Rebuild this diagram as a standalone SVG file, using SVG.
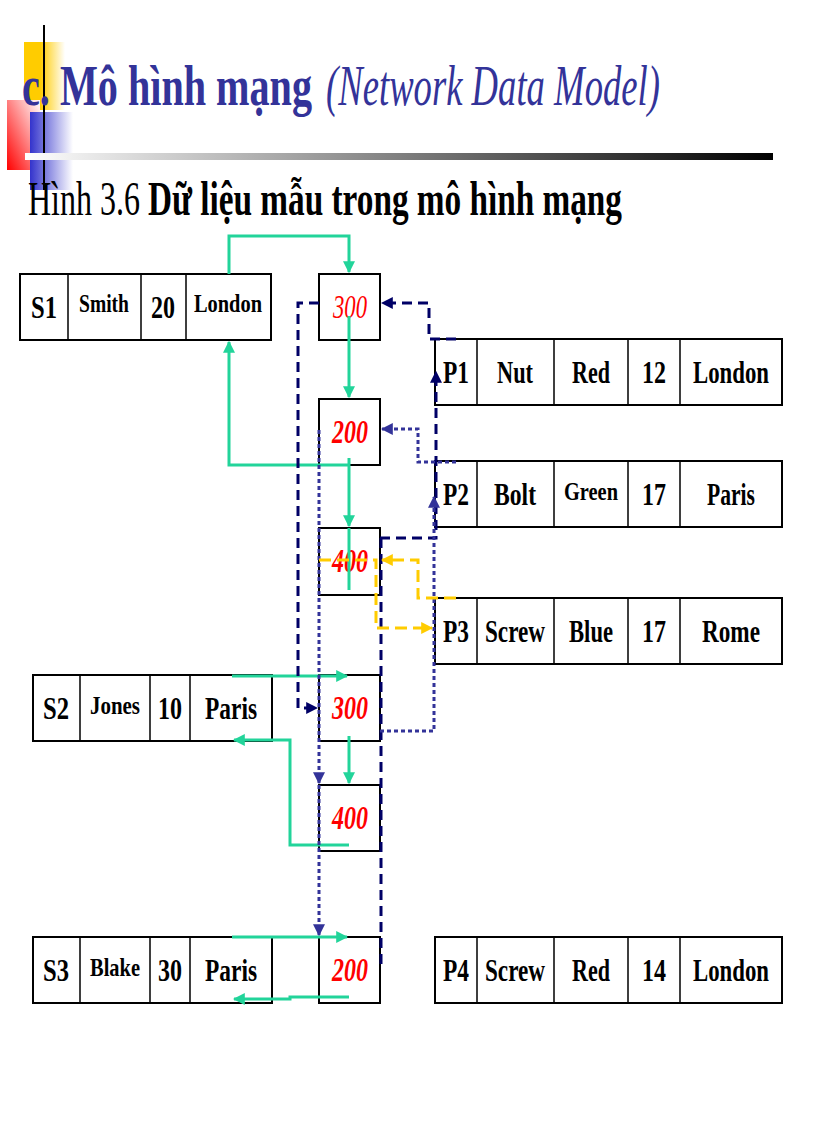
<svg xmlns="http://www.w3.org/2000/svg" width="816" height="1123" viewBox="0 0 816 1123">
<defs>
<linearGradient id="bar" x1="0" x2="1" y1="0" y2="0"><stop offset="0" stop-color="#fff"/><stop offset="1" stop-color="#000"/></linearGradient>
<linearGradient id="red" x1="0" x2="1" y1="1" y2="0"><stop offset="0" stop-color="#f00"/><stop offset="1" stop-color="#fff"/></linearGradient>
<linearGradient id="blue" x1="0" x2="1"><stop offset="0" stop-color="#3333cc"/><stop offset="1" stop-color="#fff"/></linearGradient>
<linearGradient id="yel" x1="0" x2="1"><stop offset="0.4" stop-color="#ffcc00"/><stop offset="1" stop-color="#fff"/></linearGradient>
<marker id="ag" viewBox="0 0 10 10" refX="9" refY="5" markerWidth="4" markerHeight="4" orient="auto"><path d="M0,0L10,5L0,10z" fill="#22d49a"/></marker>
<marker id="an" viewBox="0 0 10 10" refX="9" refY="5" markerWidth="4" markerHeight="4" orient="auto"><path d="M0,0L10,5L0,10z" fill="#000066"/></marker>
<marker id="ab" viewBox="0 0 10 10" refX="9" refY="5" markerWidth="4" markerHeight="4" orient="auto"><path d="M0,0L10,5L0,10z" fill="#333399"/></marker>
<marker id="ay" viewBox="0 0 10 10" refX="9" refY="5" markerWidth="4" markerHeight="4" orient="auto"><path d="M0,0L10,5L0,10z" fill="#ffcc00"/></marker>
</defs>
<style>
.c{fill:#fff;stroke:#000;stroke-width:2}
.t{font-family:"Liberation Serif",serif;font-size:32px;font-weight:bold;text-anchor:middle}
.ts{font-size:26px}
.r{font-family:"Liberation Serif",serif;font-size:34px;font-style:italic;font-weight:bold;fill:#f00;text-anchor:middle}
.g{fill:none;stroke:#22d49a;stroke-width:3;marker-end:url(#ag)}
.g0{fill:none;stroke:#22d49a;stroke-width:3}
.n{fill:none;stroke:#000066;stroke-width:3;stroke-dasharray:10 6}
.b{fill:none;stroke:#333399;stroke-width:3;stroke-dasharray:4 3}
.y{fill:none;stroke:#ffcc00;stroke-width:3;stroke-dasharray:12 6}
</style>
<rect x="24" y="42" width="41" height="68" fill="url(#yel)"/>
<rect x="7" y="100" width="33" height="70" fill="url(#red)"/>
<rect x="30" y="112" width="43" height="78" fill="url(#blue)"/>
<line x1="44" y1="25" x2="44" y2="190" stroke="#000" stroke-width="2"/>
<rect x="25" y="153" width="748" height="7" fill="url(#bar)"/>
<text x="22" y="105" font-family="Liberation Serif,serif" font-size="56" fill="#333399"><tspan font-weight="bold" textLength="290" lengthAdjust="spacingAndGlyphs">c. Mô hình mạng</tspan><tspan x="326" font-style="italic" textLength="334" lengthAdjust="spacingAndGlyphs">(Network Data Model)</tspan></text>
<text x="28" y="215" font-family="Liberation Serif,serif" font-size="48" fill="#000"><tspan textLength="112" lengthAdjust="spacingAndGlyphs">Hình 3.6</tspan><tspan x="148" font-weight="bold" textLength="474" lengthAdjust="spacingAndGlyphs">Dữ liệu mẫu trong mô hình mạng</tspan></text>

<g id="S1"><rect class="c" x="20" y="274" width="251" height="66"/><path d="M68 274V340M141 274V340M186 274V340" stroke="#000" stroke-width="1.5"/>
<text class="t" x="44" y="318" textLength="26" lengthAdjust="spacingAndGlyphs">S1</text><text class="t ts" x="104" y="312" textLength="50" lengthAdjust="spacingAndGlyphs">Smith</text><text class="t" x="163" y="318" textLength="24" lengthAdjust="spacingAndGlyphs">20</text><text class="t ts" x="228" y="312" textLength="68" lengthAdjust="spacingAndGlyphs">London</text></g>
<g id="S2"><rect class="c" x="33" y="675" width="239" height="66"/><path d="M80 675V741M150 675V741M190 675V741" stroke="#000" stroke-width="1.5"/>
<text class="t" x="56" y="719" textLength="26" lengthAdjust="spacingAndGlyphs">S2</text><text class="t ts" x="115" y="714" textLength="50" lengthAdjust="spacingAndGlyphs">Jones</text><text class="t" x="170" y="719" textLength="24" lengthAdjust="spacingAndGlyphs">10</text><text class="t" x="231" y="719" textLength="52" lengthAdjust="spacingAndGlyphs">Paris</text></g>
<g id="S3"><rect class="c" x="33" y="937" width="239" height="66"/><path d="M80 937V1003M150 937V1003M190 937V1003" stroke="#000" stroke-width="1.5"/>
<text class="t" x="56" y="981" textLength="26" lengthAdjust="spacingAndGlyphs">S3</text><text class="t ts" x="115" y="976" textLength="50" lengthAdjust="spacingAndGlyphs">Blake</text><text class="t" x="170" y="981" textLength="24" lengthAdjust="spacingAndGlyphs">30</text><text class="t" x="231" y="981" textLength="52" lengthAdjust="spacingAndGlyphs">Paris</text></g>

<g id="P1"><rect class="c" x="435" y="339" width="347" height="66"/><path d="M477 339V405M554 339V405M628 339V405M680 339V405" stroke="#000" stroke-width="1.5"/>
<text class="t" x="456" y="383" textLength="26" lengthAdjust="spacingAndGlyphs">P1</text><text class="t" x="515" y="383" textLength="36" lengthAdjust="spacingAndGlyphs">Nut</text><text class="t" x="591" y="383" textLength="38" lengthAdjust="spacingAndGlyphs">Red</text><text class="t" x="654" y="383" textLength="24" lengthAdjust="spacingAndGlyphs">12</text><text class="t" x="731" y="383" textLength="76" lengthAdjust="spacingAndGlyphs">London</text></g>
<g id="P2"><rect class="c" x="435" y="461" width="347" height="66"/><path d="M477 461V527M554 461V527M628 461V527M680 461V527" stroke="#000" stroke-width="1.5"/>
<text class="t" x="456" y="505" textLength="26" lengthAdjust="spacingAndGlyphs">P2</text><text class="t" x="515" y="505" textLength="42" lengthAdjust="spacingAndGlyphs">Bolt</text><text class="t ts" x="591" y="500" textLength="54" lengthAdjust="spacingAndGlyphs">Green</text><text class="t" x="654" y="505" textLength="24" lengthAdjust="spacingAndGlyphs">17</text><text class="t" x="731" y="505" textLength="48" lengthAdjust="spacingAndGlyphs">Paris</text></g>
<g id="P3"><rect class="c" x="435" y="598" width="347" height="66"/><path d="M477 598V664M554 598V664M628 598V664M680 598V664" stroke="#000" stroke-width="1.5"/>
<text class="t" x="456" y="642" textLength="26" lengthAdjust="spacingAndGlyphs">P3</text><text class="t" x="515" y="642" textLength="60" lengthAdjust="spacingAndGlyphs">Screw</text><text class="t" x="591" y="642" textLength="44" lengthAdjust="spacingAndGlyphs">Blue</text><text class="t" x="654" y="642" textLength="24" lengthAdjust="spacingAndGlyphs">17</text><text class="t" x="731" y="642" textLength="58" lengthAdjust="spacingAndGlyphs">Rome</text></g>
<g id="P4"><rect class="c" x="435" y="937" width="347" height="66"/><path d="M477 937V1003M554 937V1003M628 937V1003M680 937V1003" stroke="#000" stroke-width="1.5"/>
<text class="t" x="456" y="981" textLength="26" lengthAdjust="spacingAndGlyphs">P4</text><text class="t" x="515" y="981" textLength="60" lengthAdjust="spacingAndGlyphs">Screw</text><text class="t" x="591" y="981" textLength="38" lengthAdjust="spacingAndGlyphs">Red</text><text class="t" x="654" y="981" textLength="24" lengthAdjust="spacingAndGlyphs">14</text><text class="t" x="731" y="981" textLength="76" lengthAdjust="spacingAndGlyphs">London</text></g>

<g id="B300a"><rect class="c" x="319" y="274" width="61" height="66"/><text class="r" x="350" y="318" style="font-weight:normal" textLength="34" lengthAdjust="spacingAndGlyphs">300</text></g>
<g id="B200a"><rect class="c" x="319" y="399" width="61" height="66"/><text class="r" x="350" y="443" textLength="36" lengthAdjust="spacingAndGlyphs">200</text></g>
<g id="B400a"><rect class="c" x="319" y="528" width="61" height="67"/><text class="r" x="350" y="572" textLength="36" lengthAdjust="spacingAndGlyphs">400</text></g>
<g id="B300b"><rect class="c" x="319" y="675" width="61" height="66"/><text class="r" x="350" y="719" textLength="36" lengthAdjust="spacingAndGlyphs">300</text></g>
<g id="B400b"><rect class="c" x="319" y="785" width="61" height="66"/><text class="r" x="350" y="829" textLength="36" lengthAdjust="spacingAndGlyphs">400</text></g>
<g id="B200b"><rect class="c" x="319" y="937" width="61" height="66"/><text class="r" x="350" y="981" textLength="36" lengthAdjust="spacingAndGlyphs">200</text></g>

<g id="connectors">
<path class="g" d="M229 274V236H349V272"/>
<path class="g" d="M349 316V397"/>
<path class="g" d="M349 465H229V342"/>
<path class="g" d="M349 458V526"/>
<path class="g0" d="M349 528V590"/>
<path class="g" d="M232 676H347"/>
<path class="g" d="M349 736V783"/>
<path class="g" d="M349 845H290V740H234"/>
<path class="g" d="M232 937H347"/>
<path class="g" d="M349 997H290V999H234"/>
<path class="n" d="M456 339H429V303H382" marker-end="url(#an)"/>
<path class="n" d="M319 303H298V708H317" marker-end="url(#an)"/>
<path class="n" d="M380 538H436V372" marker-end="url(#an)"/>
<path class="n" d="M381 538V965"/>
<path class="b" d="M456 462H418V429H382" marker-end="url(#ab)"/>
<path class="b" d="M319 430V783" marker-end="url(#ab)"/>
<path class="b" d="M319 785V935" marker-end="url(#ab)"/>
<path class="b" d="M380 731H434V497" marker-end="url(#ab)"/>
<path class="y" d="M456 598H418V560H382" marker-end="url(#ay)"/>
<path class="y" d="M319 560H376V628H432" marker-end="url(#ay)"/>
</g>
</svg>
